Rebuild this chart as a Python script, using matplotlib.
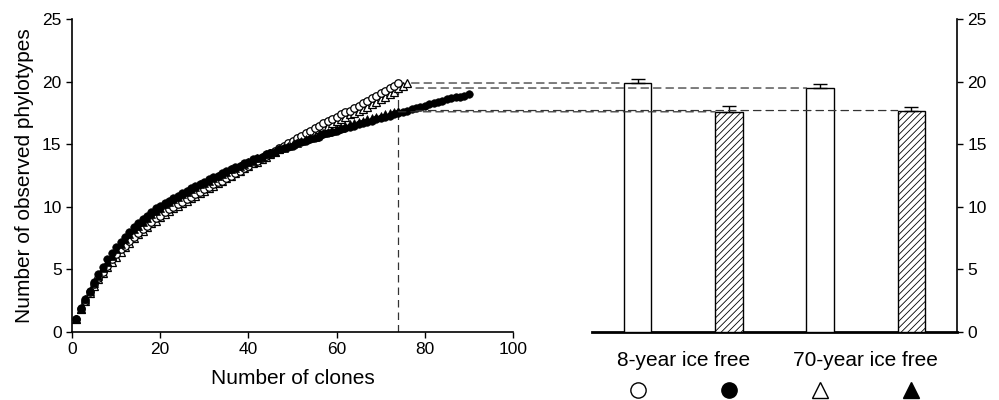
import numpy as np
import matplotlib
matplotlib.use("Agg")
import matplotlib.pyplot as plt
import matplotlib.transforms as mtransforms
from matplotlib.patches import ConnectionPatch

plt.rcParams['font.family'] = ['Liberation Sans', 'DejaVu Sans']
plt.rcParams['hatch.linewidth'] = 0.6

# --- rarefaction curves (observed phylotypes per number of clones) ---
open_circle = [1.0, 1.8, 2.5, 3.2, 3.8, 4.3, 4.8, 5.3, 5.8, 6.2,
               6.6, 6.9, 7.3, 7.6, 7.9, 8.2, 8.5, 8.8, 9.1, 9.3,
               9.6, 9.8, 10.0, 10.2, 10.4, 10.6, 10.8, 11.0, 11.2, 11.4,
               11.6, 11.8, 12.0, 12.1, 12.3, 12.5, 12.7, 12.9, 13.1, 13.3,
               13.5, 13.7, 13.9, 14.1, 14.3, 14.5, 14.7, 14.9, 15.1, 15.3,
               15.5, 15.7, 15.9, 16.1, 16.3, 16.5, 16.7, 16.9, 17.0, 17.2,
               17.4, 17.6, 17.7, 17.9, 18.1, 18.3, 18.5, 18.7, 18.9, 19.1,
               19.3, 19.5, 19.7, 19.9]
filled_circle = [1.0, 1.9, 2.6, 3.3, 4.0, 4.6, 5.2, 5.8, 6.3, 6.8,
                 7.2, 7.6, 8.0, 8.4, 8.7, 9.0, 9.3, 9.6, 9.9, 10.1,
                 10.3, 10.5, 10.7, 10.9, 11.1, 11.3, 11.5, 11.7, 11.8, 12.0,
                 12.2, 12.4, 12.5, 12.7, 12.9, 13.0, 13.2, 13.3, 13.5, 13.6,
                 13.8, 13.9, 14.0, 14.2, 14.3, 14.4, 14.6, 14.7, 14.8, 14.9,
                 15.1, 15.2, 15.3, 15.4, 15.5, 15.6, 15.8, 15.9, 16.0, 16.1,
                 16.2, 16.3, 16.4, 16.5, 16.6, 16.7, 16.8, 16.9, 17.0, 17.1,
                 17.2, 17.3, 17.4, 17.5, 17.6, 17.7, 17.8, 17.9, 18.0, 18.1,
                 18.2, 18.3, 18.4, 18.5, 18.6, 18.7, 18.8, 18.8, 18.9, 19.0]
open_triangle = [1.0, 1.8, 2.5, 3.1, 3.7, 4.2, 4.7, 5.2, 5.6, 6.0,
                 6.4, 6.8, 7.1, 7.5, 7.8, 8.1, 8.4, 8.7, 8.9, 9.2,
                 9.4, 9.7, 9.9, 10.1, 10.3, 10.5, 10.7, 10.9, 11.1, 11.3,
                 11.5, 11.7, 11.9, 12.1, 12.3, 12.5, 12.7, 12.9, 13.1, 13.3,
                 13.5, 13.6, 13.8, 14.0, 14.2, 14.4, 14.6, 14.8, 15.0, 15.2,
                 15.3, 15.5, 15.7, 15.9, 16.0, 16.2, 16.4, 16.5, 16.7, 16.9,
                 17.0, 17.2, 17.4, 17.5, 17.7, 17.8, 18.0, 18.2, 18.4, 18.6,
                 18.8, 19.0, 19.2, 19.5, 19.7, 19.9]
filled_triangle = [1.0, 1.8, 2.6, 3.3, 3.9, 4.5, 5.1, 5.6, 6.1, 6.6,
                   7.0, 7.4, 7.8, 8.2, 8.5, 8.8, 9.1, 9.4, 9.7, 9.9,
                   10.2, 10.4, 10.6, 10.8, 11.0, 11.2, 11.4, 11.6, 11.8, 11.9,
                   12.1, 12.3, 12.5, 12.6, 12.8, 13.0, 13.1, 13.3, 13.4, 13.6,
                   13.7, 13.9, 14.0, 14.2, 14.3, 14.4, 14.6, 14.7, 14.9, 15.0,
                   15.1, 15.3, 15.4, 15.5, 15.6, 15.8, 15.9, 16.0, 16.1, 16.2,
                   16.3, 16.5, 16.6, 16.7, 16.8, 16.9, 17.0, 17.1, 17.2, 17.3,
                   17.4, 17.5, 17.6, 17.7]

# --- bars: phylotypes at 74 clones ---
bar_values = [19.9, 17.6, 19.5, 17.7]
bar_errors = [0.35, 0.5, 0.35, 0.25]
bar_hatch = ['', '/////', '', '/////']
bar_symbols = ['o', 'o', '^', '^']
bar_symbol_fill = ['white', 'black', 'white', 'black']
group_labels = ['8-year ice free', '70-year ice free']
cut_clones = 74
line_start = [77, 74, 78, 78]

fig = plt.figure(figsize=(9.99, 4.0), dpi=100)
ax1 = fig.add_axes([0.0721, 0.17, 0.4414, 0.782])
ax2 = fig.add_axes([0.5926, 0.17, 0.3654, 0.782])

# left panel: rarefaction curves (open ones underneath the filled ones)
ms = 5.4
ax1.plot(np.arange(1, len(open_triangle) + 1), open_triangle, '^', ms=ms,
         mfc='white', mec='black', mew=0.9, zorder=3)
ax1.plot(np.arange(1, len(open_circle) + 1), open_circle, 'o', ms=ms,
         mfc='white', mec='black', mew=0.9, zorder=3)
ax1.plot(np.arange(1, len(filled_circle) + 1), filled_circle, 'o', ms=ms,
         mfc='black', mec='black', mew=0.5, zorder=4)
ax1.plot(np.arange(1, len(filled_triangle) + 1), filled_triangle, '^', ms=ms,
         mfc='black', mec='black', mew=0.5, zorder=4)
ax1.plot([cut_clones, cut_clones], [0, bar_values[2]], ls=(0, (6, 4)),
         color='#333333', lw=0.9, zorder=2)

ax1.set_xlim(0, 100)
ax1.set_ylim(0, 25)
ax1.set_xticks(range(0, 101, 20))
ax1.set_yticks(range(0, 26, 5))
ax1.spines['top'].set_visible(False)
ax1.spines['right'].set_visible(False)
for s in ['left', 'bottom']:
    ax1.spines[s].set_linewidth(1.2)
ax1.tick_params(direction='out', length=4, width=1, labelsize=12.5)
ax1.set_xlabel('Number of clones', fontsize=15, labelpad=8)
ax1.set_ylabel('Number of observed phylotypes', fontsize=15, labelpad=6)

# right panel: bars
pos = np.arange(len(bar_values))
for i in pos:
    ax2.bar(i, bar_values[i], width=0.3, color='white', edgecolor='black',
            linewidth=1.0, hatch=bar_hatch[i], zorder=3,
            yerr=[[0], [bar_errors[i]]], capsize=5,
            error_kw=dict(elinewidth=1, capthick=1, ecolor='black'))

ax2.set_xlim(-0.5, 3.5)
ax2.set_ylim(0, 25)
ax2.set_yticks(range(0, 26, 5))
ax2.set_xticks([])
ax2.spines['top'].set_visible(False)
ax2.spines['left'].set_visible(False)
ax2.spines['bottom'].set_linewidth(2)
ax2.spines['right'].set_linewidth(1.2)
ax2.yaxis.tick_right()
ax2.tick_params(axis='y', direction='out', length=4, width=1, labelsize=12.5)

trans = mtransforms.blended_transform_factory(ax2.transData, ax2.transAxes)
for k, lab in enumerate(group_labels):
    ax2.text(2 * k + 0.5, -0.09, lab, transform=trans, ha='center',
             va='center', fontsize=15)
for i in pos:
    ax2.plot([i], [-0.185], marker=bar_symbols[i], ms=11,
             mfc=bar_symbol_fill[i], mec='black', mew=1.0,
             transform=trans, clip_on=False)

# dashed connectors from the curves to the bars
for i in pos:
    con = ConnectionPatch(xyA=(line_start[i], bar_values[i]), coordsA='data', axesA=ax1,
                          xyB=(i - 0.15, bar_values[i]), coordsB='data', axesB=ax2,
                          ls=(0, (6, 4)), color='#333333', lw=0.9)
    fig.add_artist(con)

fig.savefig('out.png', dpi=100)
